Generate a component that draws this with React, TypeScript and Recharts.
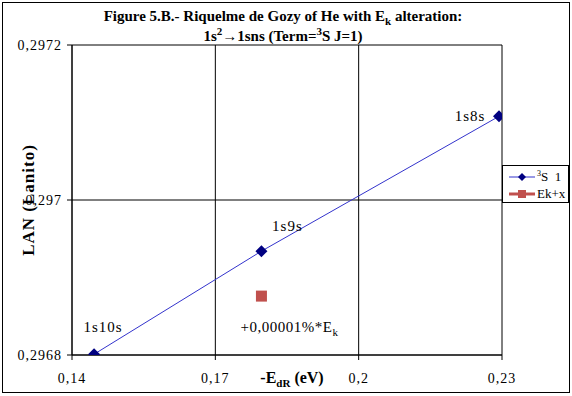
import React from 'react';
import { ScatterChart, Scatter, XAxis, YAxis, CartesianGrid } from 'recharts';

// Series "3S 1": 1s n s levels
const levelNames = ['1s10s', '1s9s', '1s8s'];
const energyX = [0.14462, 0.17965, 0.22937];
const lanY = [0.296801, 0.296934, 0.297108];

// Series "Ek+x": altered point
const ekNames = ['+0,00001%*E'];
const ekX = [0.17965];
const ekY = [0.296876];

const xTicks = [0.14, 0.17, 0.2, 0.23];
const yTicks = [0.2968, 0.297, 0.2972];

const serif = 'Liberation Serif, Times New Roman, Times, serif';

const levelData = levelNames.map((name, i) => ({ name, x: energyX[i], y: lanY[i] }));
const ekData = ekNames.map((name, i) => ({ name, x: ekX[i], y: ekY[i] }));

const comma = (v: number) => String(v).replace('.', ',');

// label offsets from the marker centre
const labelOffset: Record<string, [number, number]> = {
  '1s10s': [9, -22],
  '1s9s': [26, -20],
  '1s8s': [-29, 5],
};

const Diamond = (props: any) => {
  const { cx, cy, payload } = props;
  const r = 6;
  const off = labelOffset[payload.name] || [0, 0];
  return (
    <g>
      <polygon
        points={`${cx},${cy - r} ${cx + r},${cy} ${cx},${cy + r} ${cx - r},${cy}`}
        fill="#000080"
      />
      <text
        x={cx + off[0]}
        y={cy + off[1]}
        textAnchor="middle"
        style={{ fontFamily: serif, letterSpacing: 1 }}
        fontSize={15}
        fill="#000"
      >
        {payload.name}
      </text>
    </g>
  );
};

const Square = (props: any) => {
  const { cx, cy, payload } = props;
  const s = 11;
  return (
    <g>
      <rect x={cx - s / 2} y={cy - s / 2} width={s} height={s} fill="#C0504D" />
      <text
        x={cx + 28}
        y={cy + 36}
        textAnchor="middle"
        style={{ fontFamily: serif, letterSpacing: 0.5 }}
        fontSize={15}
        fill="#000"
      >
        {payload.name}
        <tspan fontSize={11} dy={4}>k</tspan>
      </text>
    </g>
  );
};

const LegendBox = () => (
  <div
    style={{
      position: 'absolute',
      left: 502,
      top: 165,
      width: 67,
      height: 38,
      border: '1px solid #000',
      background: '#fff',
      fontFamily: serif,
      fontSize: 13,
      boxSizing: 'border-box',
    }}
  >
    <div style={{ position: 'absolute', left: 6, top: 3, display: 'flex', alignItems: 'center' }}>
      <svg width={26} height={12}>
        <line x1={0} y1={6} x2={26} y2={6} stroke="#3333cc" strokeWidth={1} />
        <polygon points="13,2 17,6 13,10 9,6" fill="#000080" />
      </svg>
      <span style={{ marginLeft: 2 }}>
        <sup style={{ fontSize: 8, lineHeight: 0 }}>3</sup>S&nbsp;&nbsp;1
      </span>
    </div>
    <div style={{ position: 'absolute', left: 6, top: 20, display: 'flex', alignItems: 'center' }}>
      <svg width={26} height={12}>
        <line x1={0} y1={6} x2={26} y2={6} stroke="#C0504D" strokeWidth={3} />
        <rect x={9} y={2} width={8} height={8} fill="#C0504D" />
      </svg>
      <span style={{ marginLeft: 2 }}>Ek+x</span>
    </div>
  </div>
);

export default function App() {
  return (
    <div style={{ position: 'relative', width: 572, height: 396, background: '#fff' }}>
      <style>{'body{margin:0}'}</style>
      <div
        style={{
          position: 'absolute',
          left: 2,
          top: 2,
          width: 568,
          height: 391,
          border: '1px solid #000',
          boxSizing: 'border-box',
        }}
      />
      <ScatterChart
        width={572}
        height={396}
        margin={{ top: 45, right: 70, bottom: 11, left: 12 }}
        style={{ position: 'absolute', left: 0, top: 0 }}
      >
        <CartesianGrid stroke="#000" strokeWidth={1} />
        <XAxis
          type="number"
          dataKey="x"
          domain={[0.14, 0.23]}
          ticks={xTicks}
          tickFormatter={comma}
          height={30}
          stroke="#000"
          tickSize={5}
          tickMargin={13}
          tick={{ fill: '#000', style: { fontFamily: serif, letterSpacing: 1 }, fontSize: 14 }}
          allowDataOverflow
        />
        <YAxis
          type="number"
          dataKey="y"
          domain={[0.2968, 0.2972]}
          ticks={yTicks}
          tickFormatter={comma}
          width={60}
          stroke="#000"
          tickSize={5}
          tickMargin={5}
          tick={{ fill: '#000', style: { fontFamily: serif, letterSpacing: 1 }, fontSize: 14 }}
          allowDataOverflow
        />
        <Scatter
          data={levelData}
          line={{ stroke: '#3333cc', strokeWidth: 1 }}
          lineType="joint"
          shape={Diamond}
          isAnimationActive={false}
        />
        <Scatter data={ekData} shape={Square} isAnimationActive={false} />
      </ScatterChart>
      <LegendBox />
      <div
        style={{
          position: 'absolute',
          left: 0,
          width: 566,
          top: 6,
          textAlign: 'center',
          fontFamily: serif,
          fontWeight: 'bold',
          fontSize: 15,
          lineHeight: '20px',
        }}
      >
        <div>
          Figure 5.B.- Riquelme de Gozy of He with E<sub style={{ fontSize: 11, lineHeight: 0 }}>k</sub> alteration:
        </div>
        <div style={{ paddingLeft: 0 }}>
          1s<sup style={{ fontSize: 11, lineHeight: 0 }}>2</sup>→1sns (Term=<sup style={{ fontSize: 11, lineHeight: 0 }}>3</sup>S J=1)
        </div>
      </div>
      <div
        style={{
          position: 'absolute',
          left: 29,
          top: 200,
          transform: 'translate(-50%, -50%) rotate(-90deg)',
          whiteSpace: 'nowrap',
          fontFamily: serif,
          fontWeight: 'bold',
          fontSize: 17,
          letterSpacing: 1,
        }}
      >
        LAN (Lanito)
      </div>
      <div
        style={{
          position: 'absolute',
          left: 292,
          top: 378,
          transform: 'translate(-50%, -50%)',
          whiteSpace: 'nowrap',
          fontFamily: serif,
          fontWeight: 'bold',
          fontSize: 16,
        }}
      >
        -E<sub style={{ fontSize: 11, lineHeight: 0 }}>dR</sub> (eV)
      </div>
    </div>
  );
}
